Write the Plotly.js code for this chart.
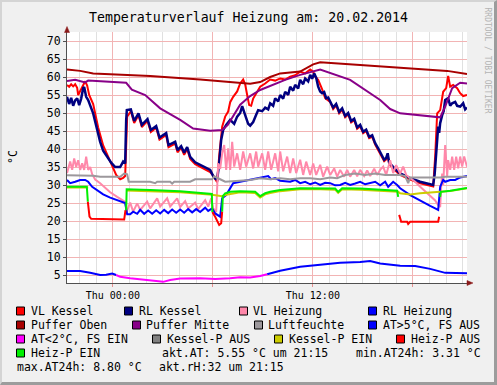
<!DOCTYPE html>
<html><head><meta charset="utf-8">
<script src="https://cdn.plot.ly/plotly-3.0.1.min.js"></script>
<style>
body{margin:0;background:#f0f0f0;}
#wrap{position:relative;width:497px;height:385px;}
#chart{width:497px;height:385px;}
#frame{position:absolute;left:0;top:0;width:497px;height:385px;box-sizing:border-box;border-style:solid;border-width:2px 3px 3px 2px;border-color:#d4d4d4 #9c9c9c #9c9c9c #d4d4d4;pointer-events:none;}
</style></head>
<body><div id="wrap"><div id="chart"></div><div id="frame"></div></div>
<script>
// ---- data: [hour relative to Thu 00:00, value] ----
const VL_KESSEL = [[-2.75,57.8],[-2.62,57.3],[-2.50,58.0],[-2.38,57.4],[-2.26,58.0],[-2.14,57.0],[-2.08,55.0],[-1.96,56.0],[-1.84,57.0],[-1.72,58.0],[-1.66,58.8],[-1.54,57.6],[-1.42,55.0],[-1.18,52.5],[-0.88,46.0],[-0.58,41.0],[-0.28,37.8],[-0.04,35.5],[0.20,32.8],[0.44,31.6],[0.62,32.0],[0.74,32.5],[0.80,45.0],[0.86,49.0],[1.08,50.5],[1.28,47.2],[1.54,49.4],[1.74,46.1],[2.08,47.8],[2.28,44.7],[2.60,45.9],[2.80,42.6],[3.20,43.9],[3.34,40.5],[3.74,41.5],[3.88,39.1],[4.10,40.3],[4.28,38.4],[4.46,40.0],[4.64,37.2],[4.94,35.8],[5.24,35.0],[5.54,34.4],[5.84,33.6],[6.02,32.6],[6.14,31.5],[6.26,30.8],[6.38,38.0],[6.50,44.0],[6.56,46.2],[6.74,49.0],[6.92,50.4],[7.04,53.0],[7.22,54.5],[7.46,56.0],[7.64,58.2],[7.82,59.3],[7.94,58.0],[8.06,55.0],[8.18,52.2],[8.30,52.0],[8.42,54.0],[8.66,55.9],[8.84,57.3],[9.14,58.2],[9.44,59.3],[9.74,59.0],[10.04,59.6],[10.34,59.3],[10.64,60.1],[10.94,60.5],[11.24,61.5],[11.54,61.0],[11.84,62.1],[12.02,61.5],[12.14,60.1],[12.32,59.2],[12.56,56.6],[12.74,54.1],[13.04,53.1],[13.22,51.1],[13.40,52.1],[13.58,49.9],[13.76,50.9],[13.94,48.8],[14.12,49.6],[14.30,47.4],[14.48,48.0],[14.66,45.6],[14.84,46.3],[15.02,44.4],[15.20,45.0],[15.38,43.0],[15.56,43.4],[15.74,41.2],[15.92,39.8],[16.10,38.2],[16.28,36.6],[16.40,37.1],[16.49,38.4],[16.58,35.8],[16.76,34.8],[16.94,34.0],[17.24,32.8],[17.54,32.1],[17.84,31.5],[18.44,30.5],[19.04,29.9],[19.22,29.6],[19.34,38.0],[19.46,49.9],[19.64,50.8],[19.82,55.9],[20.00,56.9],[20.12,60.3],[20.24,57.3],[20.42,57.8],[20.66,56.9],[20.84,55.5],[21.02,54.7],[21.25,55.0]];

const RL_KESSEL = [[-2.75,54.5],[-2.62,52.5],[-2.50,54.2],[-2.38,52.0],[-2.26,53.5],[-2.14,54.1],[-2.02,52.2],[-1.90,54.0],[-1.78,56.9],[-1.72,57.2],[-1.60,54.5],[-1.48,53.6],[-1.18,49.9],[-0.94,45.3],[-0.76,42.0],[-0.58,39.5],[-0.34,37.8],[-0.10,36.2],[0.14,35.0],[0.44,35.0],[0.62,36.5],[0.74,36.0],[0.80,48.0],[0.84,50.8],[1.08,51.0],[1.28,47.8],[1.54,49.9],[1.74,46.7],[2.08,48.3],[2.28,45.3],[2.60,46.4],[2.80,43.2],[3.20,44.4],[3.34,41.1],[3.74,42.0],[3.88,39.7],[4.10,40.8],[4.28,39.0],[4.46,40.5],[4.64,37.8],[4.94,36.3],[5.24,35.6],[5.54,35.0],[5.84,34.2],[6.02,32.5],[6.14,31.8],[6.26,31.5],[6.38,36.0],[6.50,42.5],[6.62,45.3],[6.80,46.7],[7.04,48.1],[7.28,47.0],[7.46,49.0],[7.64,50.0],[7.76,51.9],[7.94,49.4],[8.12,47.0],[8.24,46.5],[8.42,47.5],[8.60,49.5],[8.72,50.8],[8.96,50.5],[9.14,51.5],[9.32,51.0],[9.44,52.7],[9.62,52.0],[9.74,54.1],[9.92,53.2],[10.04,55.0],[10.22,54.0],[10.34,55.9],[10.52,55.0],[10.64,57.3],[10.82,56.2],[10.94,57.8],[11.12,56.8],[11.24,59.2],[11.42,58.0],[11.54,59.6],[11.72,58.8],[11.84,60.6],[11.96,59.5],[12.08,61.0],[12.20,59.8],[12.32,57.3],[12.44,56.0],[12.56,55.5],[12.68,55.8],[12.80,54.1],[12.92,54.3],[13.04,53.1],[13.22,51.5],[13.40,52.5],[13.58,50.3],[13.76,51.3],[13.94,49.2],[14.12,50.0],[14.30,47.8],[14.48,48.4],[14.66,46.0],[14.84,46.7],[15.02,44.8],[15.20,45.4],[15.38,43.4],[15.56,43.8],[15.74,41.6],[15.92,40.2],[16.10,38.6],[16.28,37.0],[16.40,37.5],[16.49,38.8],[16.58,36.2],[16.76,35.2],[16.94,34.4],[17.24,33.2],[17.54,32.5],[17.84,31.9],[18.44,30.9],[19.04,30.3],[19.22,30.0],[19.31,33.0],[19.40,40.0],[19.46,43.4],[19.52,46.2],[19.58,44.5],[19.64,47.2],[19.76,49.4],[19.85,50.5],[19.94,53.6],[20.12,54.1],[20.24,52.0],[20.36,52.7],[20.54,53.1],[20.66,52.0],[20.84,51.8],[21.02,52.7],[21.14,51.0],[21.25,51.5]];

const VL_HEIZUNG = [[-2.75,33.3],[-2.62,35.5],[-2.56,36.5],[-2.44,34.2],[-2.32,37.4],[-2.20,35.0],[-2.08,36.9],[-1.96,34.2],[-1.84,36.0],[-1.72,34.2],[-1.60,37.9],[-1.48,34.2],[-1.36,35.0],[-1.24,33.0],[-1.06,31.5],[-0.76,30.5],[-0.46,29.2],[-0.16,28.0],[0.26,26.7],[0.62,25.6],[0.74,25.3],[0.83,22.6],[1.04,25.1],[1.22,22.6],[1.46,24.9],[1.64,23.1],[2.06,25.4],[2.24,23.5],[2.66,26.3],[2.84,24.0],[3.26,26.3],[3.44,24.0],[3.86,26.3],[4.04,23.9],[4.34,25.5],[4.52,23.5],[4.94,25.1],[5.12,23.3],[5.54,25.8],[5.72,24.0],[5.90,26.3],[6.02,23.5],[6.20,22.5],[6.32,36.0],[6.44,34.5],[6.56,38.8],[6.68,41.1],[6.80,34.2],[6.92,40.2],[7.04,34.2],[7.16,42.0],[7.28,35.1],[7.46,38.8],[7.64,34.2],[7.82,39.3],[8.00,35.1],[8.24,38.8],[8.42,34.6],[8.60,39.3],[8.72,35.1],[8.96,38.8],[9.14,34.2],[9.32,39.3],[9.50,34.2],[9.74,38.8],[9.92,33.8],[10.04,39.3],[10.22,33.8],[10.46,37.9],[10.64,33.3],[10.82,37.4],[11.00,33.3],[11.24,37.0],[11.42,32.8],[11.60,36.5],[11.84,32.8],[12.02,36.0],[12.20,32.8],[12.44,35.6],[12.62,32.3],[12.86,35.1],[13.04,32.8],[13.28,34.6],[13.46,32.3],[13.64,34.2],[13.88,32.3],[14.06,34.2],[14.24,32.3],[14.48,34.2],[14.66,32.4],[14.84,34.2],[15.08,32.5],[15.26,34.0],[15.44,32.5],[15.68,34.5],[15.86,32.8],[16.04,34.2],[16.22,35.1],[16.40,32.8],[16.64,36.9],[16.82,33.3],[17.00,35.5],[17.24,33.2],[17.42,35.1],[17.60,32.8],[17.84,31.9],[18.14,30.9],[18.44,29.5],[18.74,28.3],[19.04,27.1],[19.34,25.7],[19.52,24.4],[19.64,23.9],[19.70,29.5],[19.76,33.2],[19.82,30.0],[19.94,41.1],[20.06,32.5],[20.12,36.9],[20.24,34.2],[20.36,37.9],[20.48,34.2],[20.60,37.9],[20.72,34.6],[20.84,37.9],[20.96,35.1],[21.08,37.9],[21.25,35.1]];

const RL_HEIZUNG = [[-2.75,31.4],[-2.56,30.5],[-2.26,30.9],[-1.96,31.4],[-1.66,31.4],[-1.48,30.9],[-1.24,29.5],[-0.94,28.6],[-0.58,27.4],[-0.16,26.5],[0.26,25.8],[0.62,25.2],[0.74,25.0],[0.86,21.9],[1.04,21.9],[1.22,22.6],[1.46,22.0],[1.64,23.1],[1.88,22.0],[2.12,22.9],[2.36,22.0],[2.60,23.0],[2.84,22.1],[3.08,23.1],[3.32,22.2],[3.56,23.2],[3.80,22.3],[4.04,23.2],[4.28,22.3],[4.52,23.3],[4.76,22.4],[5.00,23.3],[5.24,22.5],[5.54,23.7],[5.72,22.8],[5.96,23.5],[6.14,22.1],[6.44,21.2],[6.56,26.3],[6.80,27.2],[7.04,29.1],[7.22,30.5],[7.64,30.9],[8.24,31.4],[8.84,31.9],[9.14,32.3],[9.32,32.5],[9.50,31.6],[9.74,31.9],[10.04,31.2],[10.34,31.1],[10.64,30.9],[10.94,31.4],[11.24,30.5],[11.54,30.9],[11.84,30.2],[12.14,30.7],[12.44,30.0],[12.74,30.6],[13.04,30.5],[13.34,29.9],[13.64,30.0],[13.94,30.6],[14.24,30.0],[14.54,30.4],[14.84,30.9],[15.14,30.2],[15.44,30.5],[15.74,30.9],[16.04,29.9],[16.34,30.9],[16.52,29.5],[16.82,30.9],[17.06,30.0],[17.24,29.1],[17.84,27.2],[18.44,25.6],[19.04,24.2],[19.34,23.5],[19.52,23.1],[19.64,29.5],[19.82,31.4],[19.94,30.9],[20.24,31.4],[20.54,31.4],[20.84,32.1],[21.25,32.5]];

const PUFFER_OBEN = [[-2.75,62.1],[-1.96,61.7],[-1.18,61.0],[0.00,60.8],[2.24,60.3],[5.24,59.3],[7.64,58.5],[8.24,58.1],[8.84,58.6],[9.44,60.0],[10.04,61.0],[11.24,61.5],[12.02,63.5],[12.44,64.1],[17.24,62.6],[20.06,61.7],[21.25,60.8]];

const PUFFER_MITTE = [[-2.75,58.9],[-2.26,59.2],[-1.66,58.5],[-1.48,59.0],[0.80,58.4],[1.14,56.5],[1.94,55.0],[2.84,51.3],[4.04,48.1],[4.82,45.7],[5.84,45.1],[6.56,45.3],[6.90,46.7],[7.25,49.3],[7.64,52.3],[8.24,54.7],[8.84,56.4],[10.34,59.2],[11.24,60.6],[12.44,62.1],[14.24,59.2],[16.04,53.6],[16.64,51.1],[17.24,49.9],[19.64,48.8],[19.94,51.8],[20.36,56.9],[20.84,58.4],[21.25,58.2]];

const LUFTFEUCHTE = [[-2.75,32.7],[-1.18,32.6],[-0.76,32.3],[0.44,32.3],[0.68,33.2],[0.86,33.0],[0.95,30.9],[2.24,30.9],[2.54,30.5],[2.66,30.9],[3.44,30.9],[3.56,30.4],[3.68,30.9],[4.64,30.9],[4.94,31.6],[5.96,31.6],[6.08,32.4],[6.26,32.1],[6.44,31.6],[6.74,30.9],[7.64,31.1],[8.24,31.4],[8.84,31.9],[9.44,31.6],[10.04,31.9],[10.64,31.6],[11.24,31.9],[11.84,31.9],[12.44,31.6],[13.04,32.1],[13.46,31.9],[13.94,32.8],[14.54,33.2],[15.14,32.8],[15.74,33.2],[16.34,32.8],[17.24,32.8],[17.54,32.5],[17.72,30.5],[17.84,32.1],[19.64,32.1],[19.94,32.3],[21.25,32.3]];

const AT_WARM = [[-2.75,6.1],[-1.96,6.1],[-1.36,5.6],[-1.06,5.3],[-0.76,5.0],[-0.40,5.1],[-0.04,5.4],[0.20,5.0],[0.21,null],[9.25,null],[9.26,5.2],[10.04,6.2],[11.24,7.3],[11.84,7.6],[12.44,8.0],[13.64,8.4],[14.84,8.6],[15.44,8.9],[16.04,8.2],[17.24,7.6],[18.14,7.5],[19.04,6.7],[19.94,5.6],[20.84,5.5],[21.25,5.5]];
const AT_COLD = [[0.20,5.0],[0.44,4.5],[1.04,4.1],[1.64,3.8],[2.24,3.6],[2.72,3.4],[3.02,3.1],[3.44,3.6],[4.04,4.0],[5.24,4.1],[6.14,3.9],[7.04,4.1],[7.64,4.4],[8.24,4.3],[8.84,4.7],[9.26,5.2]];

const KESSEL_P_AUS = [];
const KESSEL_P_EIN = [[-2.75,29.3],[-1.48,29.3],[-1.47,null],[0.79,null],[0.80,28.5],[2.24,28.3],[4.04,28.0],[5.96,27.3],[6.14,27.2],[6.44,27.0],[6.56,26.9],[6.80,27.3],[7.64,28.0],[8.54,27.8],[8.84,26.5],[9.14,27.4],[9.44,27.8],[10.04,28.3],[11.24,28.8],[12.44,28.8],[13.34,28.7],[13.52,27.8],[13.76,28.8],[14.84,28.7],[16.04,28.3],[17.12,28.1],[17.24,27.7],[17.84,27.4],[18.44,27.7],[19.04,28.0],[19.52,28.1],[19.64,28.1],[20.24,28.3],[21.25,29.1]];
const HEIZ_P_AUS = [[-1.50,25.4],[-1.40,21.2],[-1.30,20.6],[0.00,20.5],[0.68,20.4],[0.76,23.0],[0.77,null],[5.96,null],[5.97,22.5],[6.14,21.2],[6.38,18.9],[6.50,19.4],[6.56,22.6],[6.57,null],[17.17,null],[17.18,21.7],[17.30,19.8],[17.66,19.8],[17.72,19.2],[17.84,19.8],[19.52,19.8],[19.58,21.2]];
const HEIZ_P_EIN = [[-2.75,29.5],[-1.56,29.5],[-1.50,25.4],[-1.49,null],[0.79,null],[0.80,23.0],[0.83,28.8],[2.24,28.6],[4.04,28.3],[5.94,27.5],[5.97,22.5],[5.98,null],[6.55,null],[6.56,22.6],[6.60,26.9],[6.74,27.7],[7.04,28.1],[7.64,28.3],[8.54,28.1],[8.84,26.9],[9.14,27.7],[9.44,28.1],[10.04,28.6],[11.24,29.1],[12.44,29.1],[13.34,29.0],[13.52,28.1],[13.76,29.1],[14.84,29.0],[16.04,28.6],[17.06,28.4],[17.12,26.7],[17.13,null],[19.63,null],[19.64,26.7],[19.68,28.1],[20.24,28.4],[21.25,29.2]];

const X_TICKS = [0, 6, 12, 18];
const X_TICK_TEXT = ['Thu 00:00', '', 'Thu 12:00', ''];
const TITLE = 'Temperaturverlauf Heizung am: 20.02.2014';
const INFO_TEXTS = ['akt.AT: 5.55 °C um 21:15', 'min.AT24h: 3.31 °C', 'max.AT24h: 8.80 °C', 'akt.rH:32 um 21:15'];

// ---- drawing ----
const MONO = 'DejaVu Sans Mono';
const L = 67, T = 32, W = 400, H = 251;
const px = x => (x - L) / W;
const py = y => (T + H - y) / H;

function line(name, pts, color, width) {
  return {type:'scatter', mode:'lines', name: name,
    x: pts.map(p => p[0]), y: pts.map(p => p[1]),
    line: {color: color, width: width || 2}, connectgaps: false, hoverinfo: 'skip', showlegend: false};
}
const traces = [
  line('VL Kessel', VL_KESSEL, '#ff0000', 2),
  line('RL Kessel', RL_KESSEL, '#000080', 2.5),
  line('VL Heizung', VL_HEIZUNG, '#ff88aa', 2),
  line('RL Heizung', RL_HEIZUNG, '#0000ff', 2),
  line('Puffer Oben', PUFFER_OBEN, '#a80000', 2),
  line('Puffer Mitte', PUFFER_MITTE, '#880088', 2),
  line('Luftfeuchte', LUFTFEUCHTE, '#9c989c', 2),
  line('AT>5°C, FS AUS', AT_WARM, '#0000ff', 2),
  line('AT<2°C, FS EIN', AT_COLD, '#ff00ff', 2),
  line('Kessel-P AUS', KESSEL_P_AUS, '#808080', 2),
  line('Kessel-P EIN', KESSEL_P_EIN, '#cccc00', 2),
  line('Heiz-P AUS', HEIZ_P_AUS, '#ff0000', 2),
  line('Heiz-P EIN', HEIZ_P_EIN, '#00f000', 2)
];

const esc = s => s.replace(/</g, '&lt;').replace(/>/g, '&gt;');
const ROWS = [311, 325, 339, 353, 367];
const LEGEND_SLOTS = [
  ['VL Kessel',16,30,0],['RL Kessel',124,138,0],['VL Heizung',239,252,0],['RL Heizung',368,382,0],
  ['Puffer Oben',16,30,1],['Puffer Mitte',132,145,1],['Luftfeuchte',254,267,1],['AT>5°C, FS AUS',368,382,1],
  ['AT<2°C, FS EIN',16,30,2],['Kessel-P AUS',152,166,2],['Kessel-P EIN',274,288,2],['Heiz-P AUS',396,410,2],
  ['Heiz-P EIN',16,30,3]];
const INFO_SLOTS = [[161,3],[355,3],[16,4],[158,4]];

const shapes = [];
const annotations = [];
const lf = {family: MONO, size: 11.5, color: '#000'};
LEGEND_SLOTS.forEach(([name, sx, tx, r]) => {
  const tr = traces.find(t => t.name === name);
  const cy = ROWS[r];
  shapes.push({type:'rect', xref:'paper', yref:'paper', x0:px(sx+0.5), x1:px(sx+8.5), y0:py(cy+4), y1:py(cy-4),
    fillcolor: tr.line.color, line:{color:'#000', width:1}});
  annotations.push({xref:'paper', yref:'paper', x:px(tx-1), y:py(cy), xanchor:'left', yanchor:'middle',
    text: esc(name), showarrow:false, font: lf});
});
INFO_TEXTS.forEach((t, i) => {
  const [tx, r] = INFO_SLOTS[i];
  annotations.push({xref:'paper', yref:'paper', x:px(tx-1), y:py(ROWS[r]), xanchor:'left', yanchor:'middle',
    text: t, showarrow:false, font: lf});
});
// y axis unit
annotations.push({xref:'paper', yref:'paper', x:px(13), y:py(157), text:'°C', textangle:-90, showarrow:false,
  xanchor:'center', yanchor:'middle', font:{family:MONO, size:11.5, color:'#000'}});
// watermark
annotations.push({xref:'paper', yref:'paper', x:px(487.5), y:py(60), text:'RRDTOOL / TOBI OETIKER', textangle:90,
  showarrow:false, xanchor:'center', yanchor:'middle', font:{family:MONO, size:8, color:'#b4b4b4'}});
// axis arrows
shapes.push({type:'path', xref:'paper', yref:'paper', layer:'above',
  path:`M ${px(64.5)},${py(32.5)} L ${px(69.5)},${py(32.5)} L ${px(67)},${py(26.5)} Z`,
  fillcolor:'#8b1a1a', line:{color:'#8b1a1a', width:0.5}});
shapes.push({type:'path', xref:'paper', yref:'paper', layer:'above',
  path:`M ${px(467)},${py(280.5)} L ${px(467)},${py(285.5)} L ${px(473)},${py(283)} Z`,
  fillcolor:'#8b1a1a', line:{color:'#8b1a1a', width:0.5}});

const layout = {
  width: 497, height: 385,
  margin: {l: L, r: 497 - L - W, t: T, b: 385 - T - H, pad: 0},
  paper_bgcolor: '#f0f0f0', plot_bgcolor: '#ffffff',
  showlegend: false,
  title: {text: TITLE, font: {family: MONO, size: 13.25, color: '#000'},
    x: 0.5, xref: 'container', xanchor: 'center', y: 1 - 17/385, yref: 'container', yanchor: 'middle'},
  xaxis: {range: [-2.75, 21.25], tickmode: 'array', tickvals: X_TICKS, ticktext: X_TICK_TEXT,
    showgrid: true, gridcolor: '#f2b4b4', gridwidth: 1, zeroline: false,
    showline: true, linecolor: '#505050', linewidth: 1,
    ticks: 'outside', ticklen: 3, tickcolor: '#e89090',
    tickfont: {family: MONO, size: 10, color: '#000'},
    minor: {tickmode: 'linear', tick0: 0, dtick: 1, showgrid: true, gridcolor: '#e0e0e0', gridwidth: 1, ticks: ''},
    fixedrange: true},
  yaxis: {range: [2.78, 72.5], tickmode: 'linear', tick0: 0, dtick: 5,
    showgrid: true, gridcolor: '#f2b4b4', gridwidth: 1, zeroline: false,
    showline: true, linecolor: '#505050', linewidth: 1,
    ticks: 'outside', ticklen: 3, tickcolor: '#505050',
    tickfont: {family: MONO, size: 11.5, color: '#000'}, fixedrange: true},
  shapes: shapes, annotations: annotations
};
Plotly.newPlot('chart', traces, layout, {displayModeBar: false, staticPlot: true});
</script></body></html>
